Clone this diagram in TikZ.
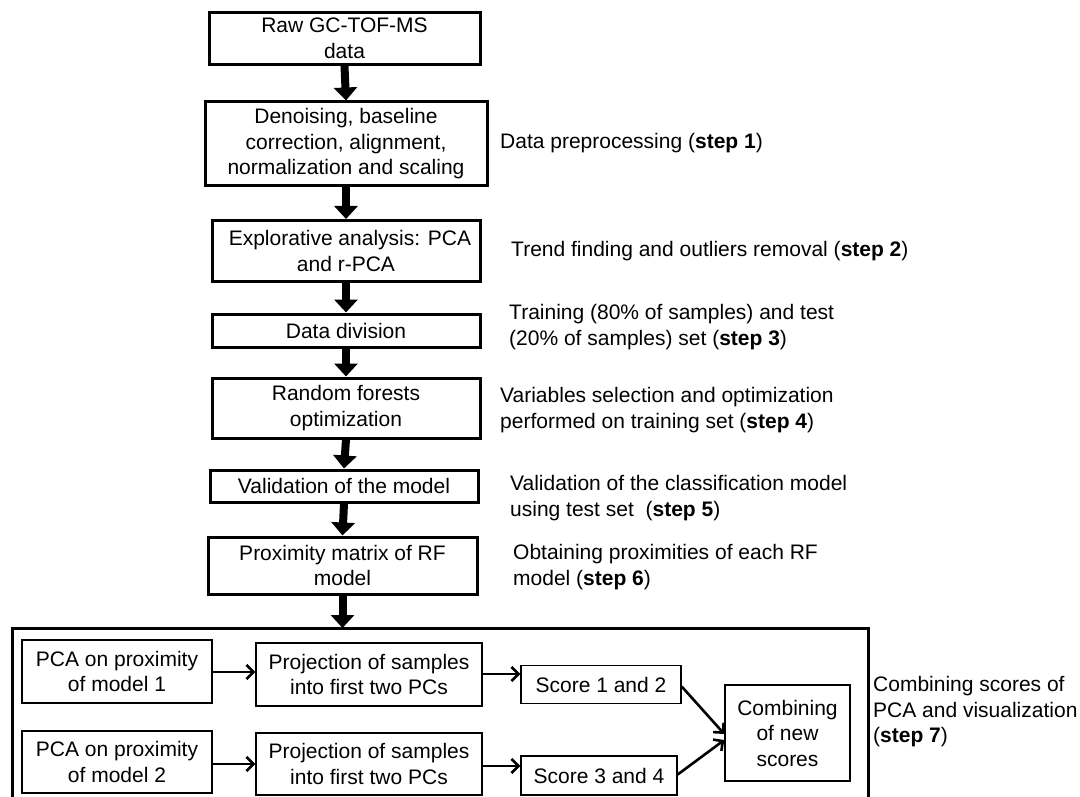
\documentclass[tikz,border=0pt]{standalone}
\usepackage{fontspec}
\setmainfont{Liberation Sans}
\usetikzlibrary{arrows.meta}
\begin{document}
\begin{tikzpicture}[x=1pt,y=-1pt,
  every node/.style={font=\fontsize{21}{25.5}\selectfont},
  mainbox/.style={draw, line width=3pt, rectangle, align=center, inner sep=0pt},
  subbox/.style={draw, line width=1.4pt, rectangle, align=center, inner sep=0pt},
  sidetext/.style={anchor=west, align=left, inner sep=0pt},
  bigarrow/.style={line width=8pt, -{Triangle[width=23pt,length=13pt]}},
  smallarrow/.style={line width=2.6pt, -{Straight Barb[length=7pt,width=14pt]}}
]
\useasboundingbox (0,0) rectangle (1080,797);

% main column
\node[mainbox, minimum width=271pt, minimum height=52pt] (raw) at (344.5,38.5) {Raw GC-TOF-MS\\data};
\node[mainbox, minimum width=282pt, minimum height=84pt] (den) at (346,144) {Denoising, baseline\\correction, alignment,\\normalization and scaling};
\node[mainbox, minimum width=268pt, minimum height=61pt] (exp) at (346,251) {\hspace*{8pt}Explorative analysis: PCA\\and r-PCA};
\node[mainbox, minimum width=268pt, minimum height=33pt] (div) at (346,330.5) {Data division};
\node[mainbox, minimum width=268pt, minimum height=60pt] (rf) at (346,408) {Random forests\\optimization};
\node[mainbox, minimum width=268pt, minimum height=32pt] (val) at (344,486) {Validation of the model};
\node[mainbox, minimum width=269pt, minimum height=57pt] (prox) at (342.5,565.5) {Proximity matrix of RF\\model};

\draw[bigarrow] (raw.south) -- (den.north);
\draw[bigarrow] (den.south) -- (exp.north);
\draw[bigarrow] (exp.south) -- (div.north);
\draw[bigarrow] (div.south) -- (rf.north);
\draw[bigarrow] (rf.south) -- (val.north);
\draw[bigarrow] (val.south) -- (prox.north);

% container for step 7
\coordinate (bigtop) at (342.5,628);
\draw[line width=3pt] (12,800) -- (12,628) -- (868,628) -- (868,800);
\draw[bigarrow] (prox.south) -- (bigtop);

% bottom row
\node[subbox, minimum width=190pt, minimum height=63pt] (pca1) at (117,671.5) {PCA on proximity\\of model 1};
\node[subbox, minimum width=190pt, minimum height=62pt] (pca2) at (117,762) {PCA on proximity\\of model 2};
\node[subbox, minimum width=226pt, minimum height=63pt] (proj1) at (369,674.5) {Projection of samples\\into first two PCs};
\node[subbox, minimum width=226pt, minimum height=62pt] (proj2) at (369,764) {Projection of samples\\into first two PCs};
\node[subbox, minimum width=160pt, minimum height=38pt] (sc1) at (601,684.5) {Score 1 and 2};
\node[subbox, minimum width=156pt, minimum height=39pt] (sc2) at (599,775.5) {Score 3 and 4};
\node[subbox, minimum width=125pt, minimum height=96pt] (comb) at (787.5,733) {Combining\\of new\\scores};

\draw[smallarrow] (pca1.east |- 0,672) -- (proj1.west |- 0,672);
\draw[smallarrow] (pca2.east |- 0,764) -- (proj2.west |- 0,764);
\draw[smallarrow] (proj1.east |- 0,674) -- (sc1.west |- 0,674);
\draw[smallarrow] (proj2.east |- 0,766) -- (sc2.west |- 0,766);
\draw[smallarrow] ([yshift=-2pt]sc1.east) -- ([yshift=-1pt]comb.west);
\draw[smallarrow] ([yshift=1pt]sc2.east) -- ([yshift=-7pt]comb.west);

% side texts
\node[sidetext] (s1) at (500,143) {Data preprocessing (\textbf{step 1})};
\node[sidetext] (s2) at (511,251) {Trend finding and outliers removal (\textbf{step 2})};
\node[sidetext] (s3) at (509,327) {Training (80\% of samples) and test\\(20\% of samples) set (\textbf{step 3})};
\node[sidetext] (s4) at (500,410) {Variables selection and optimization\\performed on training set (\textbf{step 4})};
\node[sidetext] (s5) at (510,498) {Validation of the classification model\\using test set\ \ (\textbf{step 5})};
\node[sidetext] (s6) at (513,567) {Obtaining proximities of each RF\\model (\textbf{step 6})};
\node[sidetext] (s7) at (873,712) {Combining scores of\\PCA and visualization\\(\textbf{step 7})};
\end{tikzpicture}
\end{document}
